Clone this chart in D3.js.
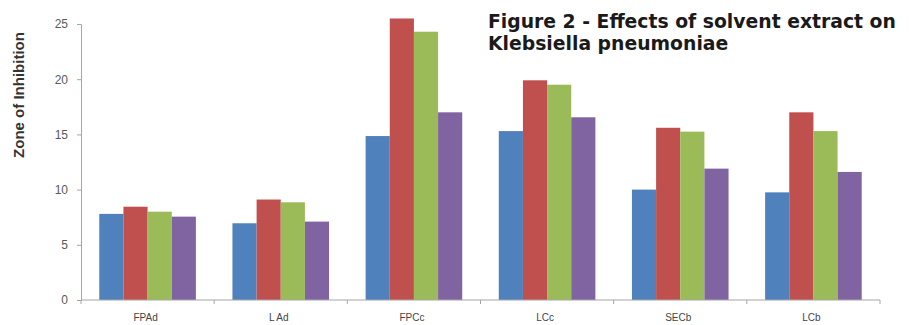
<!DOCTYPE html>
<html>
<head>
<meta charset="utf-8">
<script src="https://cdn.jsdelivr.net/npm/d3@7"></script>
<style>
  html, body { margin: 0; padding: 0; background: #fff; }
  svg { display: block; }
</style>
</head>
<body>
<svg id="chart" width="909" height="325"></svg>
<script>
// Zone of inhibition (mm) for each extract, four treatments per extract
const categories = ["FPAd", "L Ad", "FPCc", "LCc", "SECb", "LCb"];
const seriesNames = ["S1", "S2", "S3", "S4"];
const s1 = [7.8, 6.95, 14.85, 15.3, 10.0, 9.75];
const s2 = [8.45, 9.1, 25.5, 19.9, 15.6, 17.0];
const s3 = [8.0, 8.85, 24.3, 19.5, 15.25, 15.3];
const s4 = [7.55, 7.1, 17.0, 16.55, 11.9, 11.6];
const yTicks = [0, 5, 10, 15, 20, 25];
const colors = ["#4F81BD", "#C0504D", "#9BBB59", "#8064A2"];

const seriesValues = [s1, s2, s3, s4];

const svg = d3.select("#chart");
const plotLeft = 81, plotRight = 880, plotTop = 24, plotBottom = 300;

const x = d3.scaleBand().domain(categories).range([plotLeft, plotRight]).padding(0);
const xs = d3.scaleBand().domain(seriesNames).range([0, x.bandwidth()])
  .paddingInner(0).paddingOuter(0.757);
const y = d3.scaleLinear().domain([0, 25]).range([plotBottom, plotTop]);

// Bars
const groups = svg.append("g").selectAll("g")
  .data(categories)
  .join("g")
  .attr("transform", d => `translate(${x(d)},0)`);

groups.selectAll("rect")
  .data((c, i) => seriesNames.map((s, j) => ({ s, j, v: seriesValues[j][i] })))
  .join("rect")
  .attr("x", d => xs(d.s))
  .attr("width", xs.bandwidth())
  .attr("y", d => y(d.v))
  .attr("height", d => y(0) - y(d.v))
  .attr("fill", d => colors[d.j]);

// Y axis
const yAxis = svg.append("g")
  .attr("transform", `translate(${plotLeft},0)`)
  .call(d3.axisLeft(y).tickValues(yTicks).tickSize(4).tickPadding(9));
yAxis.select(".domain").attr("stroke", "#a6a6a6");
yAxis.selectAll(".tick line").attr("stroke", "#a6a6a6");
yAxis.selectAll(".tick text")
  .attr("fill", "#5a5a5a")
  .style("font-family", "'Liberation Sans', Arial, sans-serif")
  .style("font-size", "12px");

// X axis with boundary ticks between categories
const xAxisG = svg.append("g").attr("transform", `translate(0,${plotBottom})`);
xAxisG.append("line")
  .attr("x1", plotLeft).attr("x2", plotRight)
  .attr("stroke", "#a6a6a6");
xAxisG.selectAll("line.bound")
  .data(categories.map(c => x(c)).concat([plotRight]))
  .join("line")
  .attr("class", "bound")
  .attr("x1", d => d).attr("x2", d => d)
  .attr("y1", 0).attr("y2", 4)
  .attr("stroke", "#a6a6a6");
xAxisG.selectAll("text")
  .data(categories)
  .join("text")
  .attr("x", d => x(d) + x.bandwidth() / 2 - 2)
  .attr("y", 21)
  .attr("text-anchor", "middle")
  .attr("fill", "#444")
  .style("font-family", "'Liberation Sans', Arial, sans-serif")
  .style("font-size", "10px")
  .text(d => d);

// Y axis title
svg.append("text")
  .attr("transform", "translate(24,95) rotate(-90)")
  .attr("text-anchor", "middle")
  .attr("fill", "#333")
  .style("font-family", "'Liberation Sans', Arial, sans-serif")
  .style("font-size", "15px")
  .style("font-weight", "bold")
  .text("Zone of Inhibition");

// Chart title
const title = svg.append("text")
  .attr("fill", "#1a1a1a")
  .style("font-family", "'DejaVu Sans', Verdana, sans-serif")
  .style("font-size", "18.8px")
  .style("font-weight", "bold");
title.append("tspan").attr("x", 488).attr("y", 28).text("Figure 2 - Effects of solvent extract on");
title.append("tspan").attr("x", 488).attr("y", 50).text("Klebsiella pneumoniae");
</script>
</body>
</html>
